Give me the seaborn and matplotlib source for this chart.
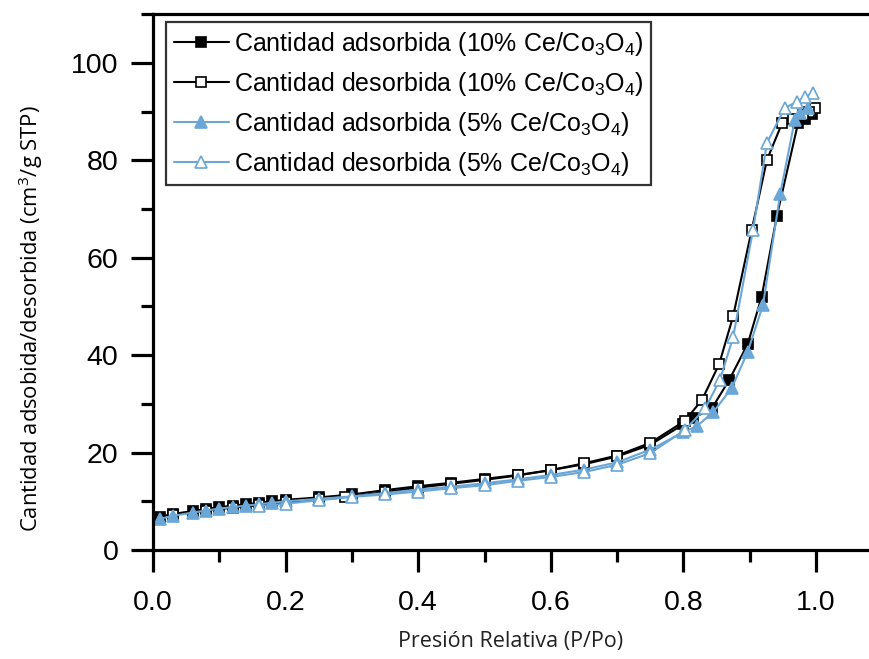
import matplotlib
matplotlib.use("Agg")
import matplotlib.pyplot as plt
import seaborn as sns
import pandas as pd

# ---- data ----
x_ads10 = [0.01, 0.03, 0.06, 0.08, 0.10, 0.12, 0.14, 0.16, 0.18, 0.20, 0.25, 0.30, 0.35,
           0.40, 0.45, 0.50, 0.55, 0.60, 0.65, 0.70, 0.75, 0.80, 0.815, 0.843, 0.869,
           0.897, 0.918, 0.941, 0.973, 0.983, 0.994]
y_ads10 = [6.8, 7.4, 8.0, 8.4, 8.8, 9.1, 9.4, 9.7, 10.0, 10.3, 10.8, 11.4, 12.3,
           13.1, 13.8, 14.6, 15.4, 16.4, 17.6, 19.2, 21.6, 25.8, 27.1, 29.1, 34.9,
           42.3, 52.0, 68.6, 87.7, 88.5, 89.5]

x_des10 = [0.998, 0.99, 0.98, 0.965, 0.949, 0.926, 0.903, 0.875, 0.854, 0.828, 0.802,
           0.75, 0.70, 0.65, 0.60, 0.55, 0.50, 0.45, 0.40, 0.35, 0.29, 0.25, 0.20,
           0.16, 0.12, 0.08, 0.03]
y_des10 = [90.8, 90.0, 89.3, 88.5, 87.7, 80.1, 65.7, 48.0, 38.2, 30.8, 26.5,
           22.0, 19.4, 17.8, 16.4, 15.3, 14.4, 13.6, 12.8, 11.9, 10.8, 10.4, 9.8,
           9.2, 8.7, 8.1, 7.2]

x_ads5 = [0.01, 0.03, 0.06, 0.08, 0.10, 0.12, 0.14, 0.16, 0.18, 0.20, 0.25, 0.30, 0.35,
          0.40, 0.45, 0.50, 0.55, 0.60, 0.65, 0.70, 0.75, 0.80, 0.82, 0.845, 0.873,
          0.897, 0.92, 0.946, 0.968, 0.976, 0.988]
y_ads5 = [6.4, 7.0, 7.7, 8.1, 8.5, 8.8, 9.1, 9.4, 9.7, 10.0, 10.5, 11.0, 11.7,
          12.4, 13.0, 13.7, 14.5, 15.4, 16.5, 18.0, 20.6, 24.2, 25.4, 28.3, 33.3,
          40.7, 50.3, 73.1, 88.3, 89.7, 90.8]

x_des5 = [0.995, 0.983, 0.971, 0.953, 0.926, 0.905, 0.875, 0.855, 0.833, 0.802,
          0.75, 0.70, 0.65, 0.60, 0.55, 0.50, 0.45, 0.40, 0.35, 0.30, 0.25, 0.20, 0.16]
y_des5 = [93.8, 93.0, 92.0, 90.8, 83.6, 65.7, 43.7, 34.9, 29.1, 24.6,
          19.9, 17.5, 16.0, 15.0, 14.2, 13.3, 12.7, 12.0, 11.4, 10.9, 10.2, 9.5, 9.0]

labels = ["Cantidad adsorbida (10% Ce/Co$_3$O$_4$)",
          "Cantidad desorbida (10% Ce/Co$_3$O$_4$)",
          "Cantidad adsorbida (5% Ce/Co$_3$O$_4$)",
          "Cantidad desorbida (5% Ce/Co$_3$O$_4$)"]

x_ticks = [0.0, 0.2, 0.4, 0.6, 0.8, 1.0]
y_ticks = [0, 20, 40, 60, 80, 100]

# ---- style ----
sns.set_style("ticks")
plt.rcParams["font.family"] = ["Liberation Sans", "DejaVu Sans"]
plt.rcParams["mathtext.default"] = "regular"
plt.rcParams["text.color"] = "black"
plt.rcParams["axes.labelcolor"] = "black"
plt.rcParams["xtick.color"] = "black"
plt.rcParams["ytick.color"] = "black"

BLUE = "#6aa6d6"
fig = plt.figure(figsize=(8.69, 6.59), dpi=100)
ax = fig.add_axes([153 / 869, 109 / 659, 716 / 869, 536 / 659])

series = [
    (x_ads10, y_ads10, "s", "black", "black", 7.0),
    (x_des10, y_des10, "s", "black", "white", 7.0),
    (x_ads5, y_ads5, "^", BLUE, BLUE, 9.0),
    (x_des5, y_des5, "^", BLUE, "white", 9.0),
]
handles = []
for (xs, ys, mk, col, fc, ms), lab in zip(series, labels):
    df = pd.DataFrame({"x": xs, "y": ys})
    sns.lineplot(data=df, x="x", y="y", sort=False, ax=ax, color=col, lw=1.5,
                 marker=mk, markersize=ms, markerfacecolor=fc,
                 markeredgecolor=col, markeredgewidth=1.2, label=lab, legend=False)
    handles.append(ax.lines[-1])

ax.set_xlim(0, 716 / 663)
ax.set_ylim(0, 110.06)
ax.set_xticks(x_ticks)
ax.set_xticklabels([f"{v:.1f}" for v in x_ticks])
ax.set_yticks(y_ticks)
ax.set_xticks([0.1, 0.3, 0.5, 0.7, 0.9], minor=True)
ax.set_yticks([10, 30, 50, 70, 90, 110], minor=True)

for s in ["left", "bottom", "top"]:
    ax.spines[s].set_linewidth(2.3)
    ax.spines[s].set_color("black")
ax.spines["right"].set_visible(False)

ax.tick_params(axis="both", which="major", length=16, width=2.3, labelsize=20.5,
               direction="out", color="black", labelcolor="black", pad=9)
ax.tick_params(axis="both", which="minor", length=8.5, width=2.3,
               direction="out", color="black")
ax.tick_params(axis="x", which="major", pad=13)

ax.set_xlabel("Presión Relativa (P/Po)", fontsize=15.5, family=["Open Sans", "DejaVu Sans"],
              color="#222222")
ax.xaxis.label.set_va("center")
ax.xaxis.set_label_coords(0.5, (550 - 641) / 536)

ax.set_ylabel("Cantidad adsobida/desorbida (cm$^3$/g STP)", fontsize=15.8,
              family=["Open Sans", "DejaVu Sans"], color="black")
ax.yaxis.label.set_va("center")
ax.yaxis.set_label_coords((31 - 153) / 716, (550 - 319) / 536)

leg = ax.legend(handles=handles, labels=labels, loc="upper left",
                bbox_to_anchor=(13 / 716, 1 - 8 / 536), fontsize=18,
                frameon=True, fancybox=False, edgecolor="black",
                handlelength=2.2, handletextpad=0.2, borderpad=0.3,
                labelspacing=0.48, borderaxespad=0)
leg.get_frame().set_linewidth(1.6)
for t in leg.get_texts():
    t.set_color("black")

fig.savefig("out.png", dpi=100)
